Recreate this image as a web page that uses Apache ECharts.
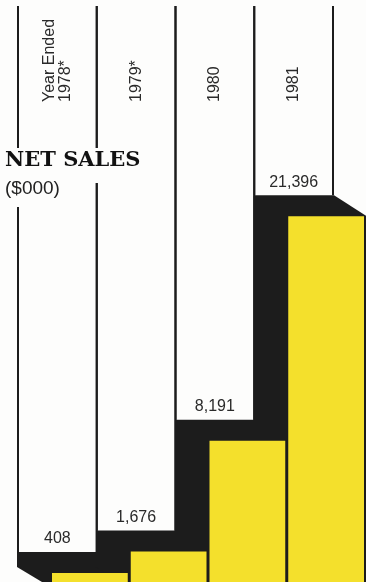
<!DOCTYPE html>
<html>
<head>
<meta charset="utf-8">
<script src="https://cdn.jsdelivr.net/npm/echarts@6/dist/echarts.min.js"></script>
<style>
  html, body { margin: 0; padding: 0; background: #fdfdfc; }
  #chart { width: 366px; height: 582px; }
</style>
</head>
<body>
<div id="chart"></div>
<script>
// Net sales by fiscal year, in thousands of dollars
const categories = ['Year Ended\n1978*', '1979*', '1980', '1981'];
const netSales = [408, 1676, 8191, 21396];

const PAPER = '#fdfdfc';
const INK = '#1c1c1c';
const YELLOW = '#f4e02c';
const DX = 34;   // depth of the extruded block, horizontal
const DY = 21;   // depth of the extruded block, vertical
const LINE_TOP = 6;

const fmt = v => v.toLocaleString('en-US');
const seriesData = netSales.map((v, i) => [i, v]);

function geom(api) {
  const idx = api.value(0);
  const v = api.value(1);
  const top = api.coord([idx, v]);
  const base = api.coord([idx, 0]);
  const bw = api.size([1, 0])[0];
  const xl = top[0] - bw / 2;
  return { xl, xr: xl + bw, cx: top[0], yf: top[1], yb: top[1] - DY, base: base[1] + 8, v };
}

// Hanging white strips: side rules and the value caption at the bottom
function renderStrip(params, api) {
  const g = geom(api);
  return {
    type: 'group',
    children: [
      { type: 'line', shape: { x1: g.xl, y1: LINE_TOP, x2: g.xl, y2: g.yb }, style: { stroke: INK, lineWidth: 2 } },
      { type: 'line', shape: { x1: g.xr, y1: LINE_TOP, x2: g.xr, y2: g.yb }, style: { stroke: INK, lineWidth: 2 } },
      { type: 'text', x: g.cx, y: g.yb - 5,
        style: { text: fmt(g.v), fill: '#2a2a2a', font: '16px "Liberation Sans", Arial, sans-serif',
                 align: 'center', verticalAlign: 'bottom' } }
    ]
  };
}

// Black depth of each block, from the strip bottom to the front face
function renderDepth(params, api) {
  const g = geom(api);
  const backBase = g.base - DY;
  return {
    type: 'polygon',
    shape: { points: [
      [g.xl - 1, g.yb], [g.xr + 1, g.yb], [g.xr + DX, g.yf], [g.xr + DX, g.base],
      [g.xl + DX, g.base], [g.xl - 1, backBase]
    ] },
    style: { fill: INK }
  };
}

// Yellow front face
function renderFront(params, api) {
  const g = geom(api);
  return {
    type: 'rect',
    shape: { x: g.xl + DX, y: g.yf, width: g.xr - g.xl - 3, height: g.base - g.yf },
    style: { fill: YELLOW }
  };
}

const chart = echarts.init(document.getElementById('chart'), null, { renderer: 'canvas' });
chart.setOption({
  backgroundColor: PAPER,
  animation: false,
  grid: { left: 18, right: 33, top: 104, bottom: 2, containLabel: false },
  xAxis: {
    type: 'category',
    data: categories,
    position: 'top',
    axisLine: { show: false },
    axisTick: { show: false },
    axisLabel: {
      interval: 0, rotate: 90, margin: 2,
      color: '#2a2a2a', fontSize: 16, lineHeight: 16,
      fontFamily: '"Liberation Sans", Arial, sans-serif'
    }
  },
  yAxis: { type: 'value', min: 0, max: 28000, show: false },
  series: [
    { type: 'custom', renderItem: renderStrip, data: seriesData, clip: false, z: 1 },
    { type: 'custom', renderItem: renderDepth, data: seriesData, clip: false, z: 2 },
    { type: 'custom', renderItem: renderFront, data: seriesData, clip: false, z: 3 }
  ],
  graphic: [
    { type: 'text', left: 3, top: 148, z: 100,
      style: { text: 'NET SALES', fill: '#121212', font: '900 21px "DejaVu Serif", serif',
               backgroundColor: PAPER, padding: [2, 4, 12, 2] } },
    { type: 'text', left: 3, top: 178, z: 101,
      style: { text: '($000)', fill: '#222', font: '19px "Liberation Sans", Arial, sans-serif',
               backgroundColor: PAPER, padding: [1, 6, 9, 2] } }
  ]
});
</script>
</body>
</html>
